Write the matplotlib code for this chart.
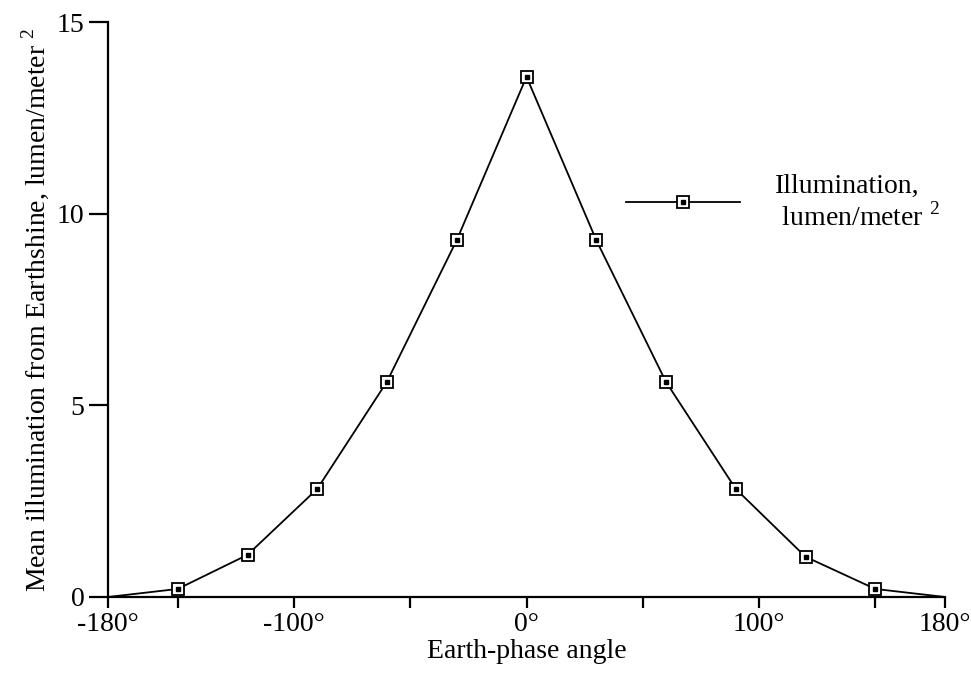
import matplotlib
matplotlib.use("Agg")
import matplotlib.pyplot as plt
from matplotlib.legend_handler import HandlerTuple

# Earth-phase angle (deg) and mean illumination (lumen/m^2)
angle = [-180, -150, -120, -90, -60, -30, 0, 30, 60, 90, 120, 150, 180]
illum = [0.0, 0.21, 1.1, 2.82, 5.62, 9.31, 13.57, 9.31, 5.61, 2.82, 1.05, 0.21, 0.0]

major_ticks = [-180, -100, 0, 100, 180]
tick_labels = ["-180°", "-100°", "0°", "100°", "180°"]
minor_ticks = [-150, -50, 50, 150]
y_ticks = [0, 5, 10, 15]

plt.rcParams["font.family"] = ["Liberation Serif", "DejaVu Serif"]
plt.rcParams["mathtext.fontset"] = "custom"
plt.rcParams["mathtext.rm"] = "Liberation Serif"

fs = 20

fig = plt.figure(figsize=(9.71, 6.79), dpi=100)
ax = fig.add_axes([108 / 971, 1 - 597 / 679, 837 / 971, 575 / 679])

ax.plot(angle, illum, color="black", lw=1.3, zorder=2)
sq, = ax.plot(angle[1:-1], illum[1:-1], ls="none", marker="s", ms=9,
              mfc="white", mec="black", mew=1.3, zorder=3)
dot, = ax.plot(angle[1:-1], illum[1:-1], ls="none", marker="s", ms=3,
               mfc="black", mec="black", zorder=4)
line, = ax.plot([], [], color="black", lw=1.3)

ax.set_xlim(-180, 180)
ax.set_ylim(0, 15)
ax.set_xticks(major_ticks)
ax.set_xticklabels(tick_labels)
ax.set_xticks(minor_ticks, minor=True)
ax.set_yticks(y_ticks)

for s in ["top", "right"]:
    ax.spines[s].set_visible(False)
for s in ["left", "bottom"]:
    ax.spines[s].set_linewidth(1.6)

ax.tick_params(axis="both", which="both", direction="out", width=1.6,
               labelsize=fs, length=8)
ax.tick_params(axis="x", pad=3)
ax.tick_params(axis="y", length=14, pad=3)

ax.set_xlabel("Earth-phase angle", fontsize=fs, labelpad=1)
ax.set_ylabel("Mean illumination from Earthshine, lumen/meter $^2$",
              fontsize=fs, labelpad=4)

leg = ax.legend([(line, sq, dot)], ["Illumination,\n lumen/meter $^2$"],
                handler_map={tuple: HandlerTuple(ndivide=1, pad=0)},
                loc="upper left", bbox_to_anchor=(0.589, 0.78),
                frameon=False, fontsize=fs, handlelength=4.1,
                handletextpad=1.25, numpoints=1, labelspacing=0.2)

fig.savefig("out.png", dpi=100)
